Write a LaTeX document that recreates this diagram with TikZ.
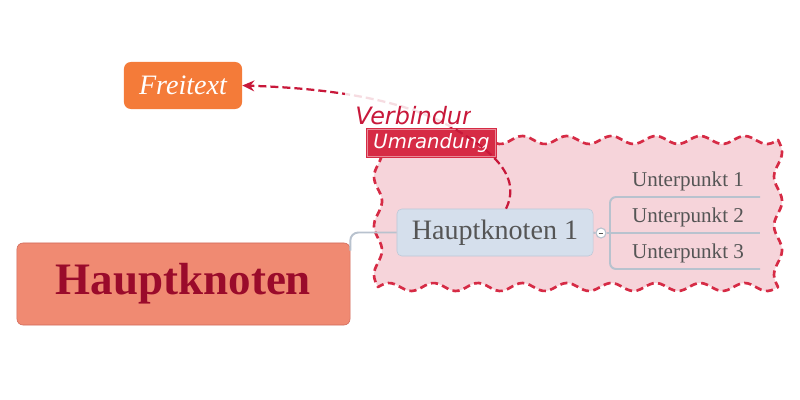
\documentclass[tikz,border=0pt]{standalone}
\usepackage{fontspec}
\setmainfont{Liberation Serif}
\newfontfamily\labelfont{DejaVu Sans}
\usetikzlibrary{arrows.meta}
\definecolor{ftorange}{HTML}{F47B39}
\definecolor{hkfill}{HTML}{F08A72}
\definecolor{hkdraw}{HTML}{D0695A}
\definecolor{hktext}{HTML}{9A0B2B}
\definecolor{subfill}{HTML}{D5DFEC}
\definecolor{subdraw}{HTML}{BCC8D8}
\definecolor{subtext}{HTML}{555555}
\definecolor{umfill}{HTML}{F6D4DA}
\definecolor{umred}{HTML}{D62B45}
\definecolor{linegray}{HTML}{B8C2CE}
\definecolor{verbred}{HTML}{C8183A}
\begin{document}
\begin{tikzpicture}[x=0.025cm,y=-0.025cm,
    freitext/.style={fill=ftorange,rounded corners=0.17cm,minimum width=2.95cm,
      minimum height=1.175cm,text=white,font=\fontsize{20}{24}\selectfont\itshape},
    hauptbox/.style={fill=hkfill,draw=hkdraw,rounded corners=0.15cm,minimum width=8.325cm,
      minimum height=2.05cm,text=hktext,font=\fontsize{32}{36}\selectfont\bfseries},
    subbox/.style={fill=subfill,draw=subdraw,rounded corners=0.12cm,minimum width=4.9cm,
      minimum height=1.175cm,text=subtext,font=\fontsize{20}{24}\selectfont},
    subtextnode/.style={text=subtext,font=\fontsize{15}{18}\selectfont},
    grayline/.style={draw=linegray,line width=1.4pt},
    umrand/.style={fill=umfill,draw=umred,line width=1.9pt,dash pattern=on 0.18cm off 0.11cm,
      line join=round},
    umlabel/.style={fill=umred,minimum width=3.275cm,minimum height=0.75cm,inner sep=0pt,
      text=white,font=\labelfont\fontsize{14}{17}\selectfont\itshape},
    verbline/.style={draw=verbred,line width=1.6pt,dash pattern=on 0.2cm off 0.1cm}]
    \useasboundingbox (0,0) rectangle (800,400);
    %画Umrandung的波浪边框
    \path[umrand]
        plot[domain=378:778,samples=120] (\x,{140-4*sin((\x-378)*8.1)})
        -- plot[domain=140:287,samples=50] ({778+4*sin((\x-140)*7.35)},\x)
        -- plot[domain=778:378,samples=120] (\x,{287+4*sin((778-\x)*8.1)})
        -- plot[domain=287:140,samples=50] ({378-4*sin((287-\x)*7.35)},\x) -- cycle;
    %画节点
    \node[freitext] (ft) at (183,85.5) {Freitext};
    \node[hauptbox] (hk) at (183.5,284) {Hauptknoten};
    \node[subbox] (hk1) at (495,232.5) {Hauptknoten 1};
    \node[circle,fill=white,draw=linegray,line width=0.8pt,minimum size=0.25cm,inner sep=0pt] (mc) at (601,233) {};
    %画Unterpunkte
    \coordinate (br) at (610,233);
    \foreach \i/\y in {1/197,2/233,3/269}
    {
        \node[subtextnode] (up\i) at (688,\y-16) {Unterpunkt \i};
        \coordinate (e\i) at (760,\y);
    };
    %画连线
    \draw[grayline,rounded corners=0.2cm] ([yshift=-0.2cm]hk.north east) |- (hk1.west);
    \draw[grayline] (hk1.east) -- (mc.west);
    \draw[grayline] (mc.east) -- (e2);
    \draw[grayline,rounded corners=0.15cm] (e1) -| (br) |- (e3);
    \draw[subtext,line width=0.6pt] ([xshift=-0.06cm]mc.center) -- ([xshift=0.06cm]mc.center);
    %画Umrandung标签
    \node[umlabel] (ul) at (431.5,143) {Umrandung};
    \draw[white,opacity=0.45,line width=0.5pt] ([xshift=0.05cm,yshift=0.05cm]ul.south west)
        rectangle ([xshift=-0.05cm,yshift=-0.05cm]ul.north east);
    %画Verbindung
    \draw[verbline,-{Stealth[length=0.3cm,width=0.27cm,inset=0.1cm]}]
        ([xshift=0.275cm]hk1.north) .. controls (520,180) and (500,155) .. (453,128)
        .. controls (400,97) and (320,88) .. (ft.east);
    \fill[white,opacity=0.85] (345,88) rectangle (470,127);
    \begin{scope}
        \clip (340,80) rectangle (470,135);
        \node[anchor=base west,inner sep=0pt,text=verbred,font=\labelfont\fontsize{17}{20}\selectfont\itshape] (vb) at (355,125) {Verbindung};
    \end{scope}
\end{tikzpicture}
\end{document}
